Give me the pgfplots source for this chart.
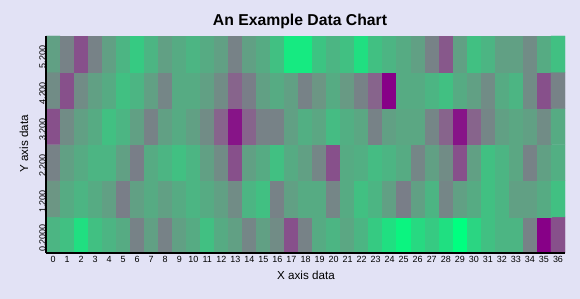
\documentclass[border=0pt]{standalone}
\usepackage{pgfplots}
\pgfplotsset{compat=1.18}
\usepackage{fontspec}
\setmainfont{Liberation Sans}
\definecolor{bg}{RGB}{226,226,245}
\begin{document}
\begin{tikzpicture}
\fill[bg] (0,0) rectangle (580bp,299bp);
\path[use as bounding box] (0,0) rectangle (580bp,299bp);
\begin{axis}[
  at={(46bp,46bp)}, anchor=south west,
  scale only axis, width=519bp, height=217bp,
  xmin=-0.5, xmax=36.5, ymin=-0.5, ymax=5.5,
  enlargelimits=false,
  axis on top,
  axis x line*=bottom, axis y line*=left,
  axis line style={-, line width=2bp, black},
  major tick length=0pt,
  xtick={0,...,36},
  ytick={0,...,5},
  yticklabels={0.2000,1.200,2.200,3.200,4.200,5.200},
  /pgf/number format/assume math mode=true,
  ticklabel style={font=\fontsize{9}{10}\selectfont},
  xticklabel style={inner sep=0pt, anchor=north, yshift=-3bp},
  yticklabel style={rotate=90, inner sep=0pt, anchor=south, xshift=-3bp},
  colormap={gp}{rgb255(0)=(0,255,128) rgb255(4)=(108,150,132) rgb255(6)=(135,100,140) rgb255(8)=(135,0,135)},
  point meta min=0, point meta max=1,
]
\addplot[matrix plot*, mesh/cols=37, mesh/ordering=x varies, point meta=explicit] coordinates {
(0,0)[0.35] (1,0)[0.30] (2,0)[0.15] (3,0)[0.30] (4,0)[0.35] (5,0)[0.40] (6,0)[0.60] (7,0)[0.45] (8,0)[0.60] (9,0)[0.45] (10,0)[0.40] (11,0)[0.30] (12,0)[0.40] (13,0)[0.45] (14,0)[0.58] (15,0)[0.45] (16,0)[0.55] (17,0)[0.80] (18,0)[0.60] (19,0)[0.40] (20,0)[0.35] (21,0)[0.42] (22,0)[0.35] (23,0)[0.25] (24,0)[0.15] (25,0)[0.05] (26,0)[0.18] (27,0)[0.25] (28,0)[0.15] (29,0)[0.00] (30,0)[0.20] (31,0)[0.30] (32,0)[0.35] (33,0)[0.35] (34,0)[0.60] (35,0)[1.00] (36,0)[0.80]

(0,1)[0.50] (1,1)[0.40] (2,1)[0.35] (3,1)[0.40] (4,1)[0.45] (5,1)[0.62] (6,1)[0.45] (7,1)[0.40] (8,1)[0.45] (9,1)[0.40] (10,1)[0.35] (11,1)[0.40] (12,1)[0.45] (13,1)[0.55] (14,1)[0.35] (15,1)[0.30] (16,1)[0.60] (17,1)[0.45] (18,1)[0.40] (19,1)[0.40] (20,1)[0.58] (21,1)[0.40] (22,1)[0.30] (23,1)[0.35] (24,1)[0.45] (25,1)[0.62] (26,1)[0.45] (27,1)[0.35] (28,1)[0.58] (29,1)[0.45] (30,1)[0.40] (31,1)[0.30] (32,1)[0.35] (33,1)[0.45] (34,1)[0.45] (35,1)[0.40] (36,1)[0.30]

(0,2)[0.60] (1,2)[0.45] (2,2)[0.40] (3,2)[0.35] (4,2)[0.35] (5,2)[0.45] (6,2)[0.62] (7,2)[0.40] (8,2)[0.35] (9,2)[0.30] (10,2)[0.35] (11,2)[0.45] (12,2)[0.55] (13,2)[0.80] (14,2)[0.45] (15,2)[0.40] (16,2)[0.30] (17,2)[0.40] (18,2)[0.45] (19,2)[0.58] (20,2)[0.80] (21,2)[0.40] (22,2)[0.38] (23,2)[0.32] (24,2)[0.35] (25,2)[0.40] (26,2)[0.58] (27,2)[0.45] (28,2)[0.55] (29,2)[0.80] (30,2)[0.45] (31,2)[0.30] (32,2)[0.35] (33,2)[0.42] (34,2)[0.60] (35,2)[0.45] (36,2)[0.38]

(0,3)[0.80] (1,3)[0.55] (2,3)[0.45] (3,3)[0.40] (4,3)[0.30] (5,3)[0.35] (6,3)[0.45] (7,3)[0.60] (8,3)[0.45] (9,3)[0.40] (10,3)[0.45] (11,3)[0.55] (12,3)[0.75] (13,3)[0.95] (14,3)[0.75] (15,3)[0.60] (16,3)[0.60] (17,3)[0.45] (18,3)[0.38] (19,3)[0.42] (20,3)[0.32] (21,3)[0.38] (22,3)[0.42] (23,3)[0.60] (24,3)[0.45] (25,3)[0.42] (26,3)[0.42] (27,3)[0.58] (28,3)[0.75] (29,3)[0.95] (30,3)[0.75] (31,3)[0.58] (32,3)[0.45] (33,3)[0.42] (34,3)[0.45] (35,3)[0.55] (36,3)[0.40]

(0,4)[0.55] (1,4)[0.80] (2,4)[0.55] (3,4)[0.45] (4,4)[0.40] (5,4)[0.30] (6,4)[0.35] (7,4)[0.45] (8,4)[0.58] (9,4)[0.40] (10,4)[0.40] (11,4)[0.45] (12,4)[0.55] (13,4)[0.75] (14,4)[0.62] (15,4)[0.45] (16,4)[0.40] (17,4)[0.45] (18,4)[0.60] (19,4)[0.50] (20,4)[0.40] (21,4)[0.48] (22,4)[0.60] (23,4)[0.75] (24,4)[1.00] (25,4)[0.40] (26,4)[0.40] (27,4)[0.35] (28,4)[0.30] (29,4)[0.40] (30,4)[0.45] (31,4)[0.55] (32,4)[0.40] (33,4)[0.35] (34,4)[0.55] (35,4)[0.80] (36,4)[0.60]

(0,5)[0.45] (1,5)[0.60] (2,5)[0.80] (3,5)[0.60] (4,5)[0.45] (5,5)[0.35] (6,5)[0.25] (7,5)[0.35] (8,5)[0.45] (9,5)[0.40] (10,5)[0.35] (11,5)[0.40] (12,5)[0.45] (13,5)[0.60] (14,5)[0.45] (15,5)[0.40] (16,5)[0.30] (17,5)[0.10] (18,5)[0.10] (19,5)[0.28] (20,5)[0.35] (21,5)[0.30] (22,5)[0.15] (23,5)[0.30] (24,5)[0.35] (25,5)[0.40] (26,5)[0.45] (27,5)[0.60] (28,5)[0.78] (29,5)[0.45] (30,5)[0.30] (31,5)[0.35] (32,5)[0.45] (33,5)[0.45] (34,5)[0.55] (35,5)[0.40] (36,5)[0.30]
};
\end{axis}
\node[anchor=base, font=\bfseries\fontsize{15.8}{18}\selectfont] at (300bp,273bp) {An Example Data Chart};
\node[anchor=base, font=\fontsize{11.7}{14}\selectfont] at (306bp,20bp) {X axis data};
\node[anchor=base, rotate=90, font=\fontsize{11.7}{14}\selectfont] at (28bp,155bp) {Y axis data};
\end{tikzpicture}
\end{document}
